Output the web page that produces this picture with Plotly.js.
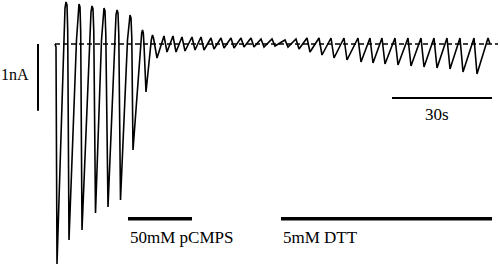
<!DOCTYPE html>
<html>
<head>
<meta charset="utf-8">
<script src="https://cdn.plot.ly/plotly-3.0.1.min.js"></script>
<style>html,body{margin:0;padding:0;background:#fff;}#chart{width:500px;height:268px;}</style>
</head>
<body>
<div id="chart"></div>
<script>
// Membrane current trace (time in s, current in nA), vertices
const timeS = [
  16.5, 16.8, 17.1, 19.05, 19.5, 19.8, 20.1, 20.31, 20.7,
  22.95, 23.4, 23.7, 24.0, 24.21, 24.6,
  26.85, 27.3, 27.6, 27.9, 28.14, 28.65,
  30.45, 30.9, 31.2, 31.5, 31.74, 32.4,
  34.35, 34.8, 35.1, 35.4, 35.64, 36.15,
  38.25, 38.7, 39.0, 39.3, 39.54, 39.9,
  42.15, 42.51, 42.75, 42.99, 43.2, 43.8,
  45.39, 45.75, 46.05, 47.1,
  49.2, 50.1, 51.9, 52.8, 54.6, 55.5, 57.6, 58.5, 60.3, 61.2,
  63.3, 64.2, 66.3, 67.2, 69.3, 70.2, 72.3, 73.2, 75.3, 76.2,
  78.3, 79.2, 81.6, 82.5,
  85.5, 86.4, 88.8, 89.7, 92.1, 93.0, 95.7, 96.6, 99.3, 100.2,
  103.2, 104.1, 107.4, 108.3, 111.0, 111.9, 114.6, 115.5, 118.5, 119.4,
  122.4, 123.3, 126.3, 127.2, 130.2, 131.1, 134.1, 135.0, 138.0, 138.9,
  142.2, 143.1, 146.4, 147.0
];
const currentNA = [
  0, -0.045, -3.3, 0.06, 0.54, 0.63, 0.585, 0.21, -2.94,
  0.06, 0.51, 0.6, 0.555, 0.18, -2.79,
  0.06, 0.48, 0.57, 0.525, 0.18, -2.535,
  0.06, 0.465, 0.54, 0.495, 0.15, -2.445,
  0.06, 0.435, 0.51, 0.465, 0.135, -2.34,
  0.06, 0.375, 0.435, 0.39, 0.09, -1.59,
  0.03, 0.165, 0.21, 0.165, -0.015, -0.72,
  0.06, 0.135, 0.09, -0.21,
  0.12, -0.12, 0.12, -0.12, 0.105, -0.105, 0.105, -0.09, 0.105, -0.09,
  0.09, -0.075, 0.09, -0.06, 0.09, -0.06, 0.09, -0.045, 0.09, -0.045,
  0.075, -0.045, 0.075, -0.03,
  0.06, -0.045, 0.075, -0.075, 0.09, -0.12, 0.09, -0.165, 0.09, -0.21,
  0.09, -0.24, 0.09, -0.27, 0.09, -0.285, 0.09, -0.3, 0.09, -0.315,
  0.09, -0.33, 0.09, -0.345, 0.09, -0.36, 0.09, -0.375, 0.09, -0.42,
  0.09, -0.45, 0.09, 0
];
// Zero-current baseline (dashed)
const baselineT = [16.5, 149.4];
const baselineI = [0, 0];
// Drug applications
const drugNames = ["50mM pCMPS", "5mM DTT"];
const drugStart = [38.4, 84.3];
const drugEnd = [57.6, 147.6];
const drugBarLevel = -2.62;
const drugLabelLevel = -2.9;
// Scale bars
const scaleCurrentNA = 1;
const scaleCurrentLabel = "1nA";
const scaleCurrentT = 11.4;
const scaleTimeS = 30;
const scaleTimeLabel = "30s";
const scaleTimeEnd = 147.6;
const scaleTimeLevel = -0.81;

const black = "#000";
const serif = "Liberation Serif";

const traces = [
  {x: baselineT, y: baselineI, mode: "lines", line: {color: black, width: 1.4, dash: "5px,3px"}, hoverinfo: "skip"},
  {x: timeS, y: currentNA, mode: "lines", line: {color: black, width: 1.6}, hoverinfo: "skip"},
  {x: [scaleCurrentT, scaleCurrentT], y: [0, -scaleCurrentNA], mode: "lines", line: {color: black, width: 2}, hoverinfo: "skip"},
  {x: [scaleTimeEnd - scaleTimeS, scaleTimeEnd], y: [scaleTimeLevel, scaleTimeLevel], mode: "lines", line: {color: black, width: 2}, hoverinfo: "skip"}
];
drugNames.forEach((n, i) => {
  traces.push({x: [drugStart[i], drugEnd[i]], y: [drugBarLevel, drugBarLevel], mode: "lines", line: {color: black, width: 3.5}, hoverinfo: "skip"});
});

const annotations = drugNames.map((n, i) => ({
  x: drugStart[i], y: drugLabelLevel, xref: "x", yref: "y", text: n, showarrow: false,
  xanchor: "left", yanchor: "middle", font: {family: serif, size: 17, color: black}
}));
annotations.push({x: 4.6, y: -0.45, xref: "x", yref: "y", text: scaleCurrentLabel, showarrow: false,
  xanchor: "center", yanchor: "middle", font: {family: serif, size: 16, color: black}});
annotations.push({x: scaleTimeEnd - scaleTimeS / 2 - 1.5, y: -1.05, xref: "x", yref: "y", text: scaleTimeLabel, showarrow: false,
  xanchor: "center", yanchor: "middle", font: {family: serif, size: 17, color: black}});

const layout = {
  width: 500, height: 268,
  margin: {l: 0, r: 0, t: 0, b: 0, pad: 0},
  paper_bgcolor: "#fff", plot_bgcolor: "#fff",
  showlegend: false,
  font: {family: serif},
  xaxis: {range: [0, 150], visible: false, fixedrange: true},
  yaxis: {range: [-3.36, 0.66], visible: false, fixedrange: true},
  annotations: annotations
};
Plotly.newPlot("chart", traces, layout, {staticPlot: true, displayModeBar: false});
</script>
</body>
</html>
